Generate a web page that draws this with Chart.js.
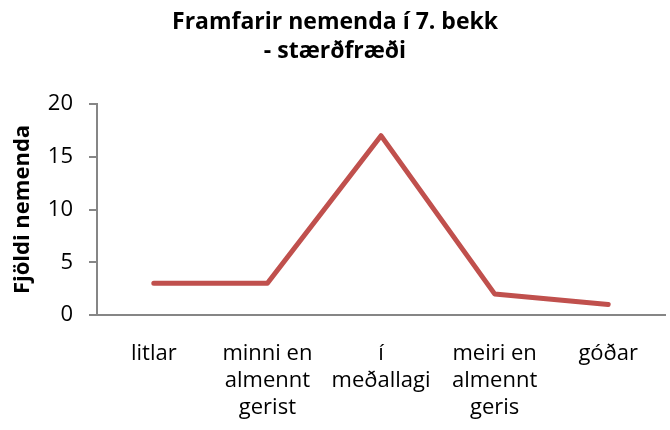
<!DOCTYPE html>
<html>
<head>
<meta charset="utf-8">
<script src="https://cdn.jsdelivr.net/npm/chart.js@4"></script>
<style>
  html, body { margin: 0; padding: 0; background: #fff; }
  #wrap { width: 670px; height: 430px; }
</style>
</head>
<body>
<div id="wrap"><canvas id="chart" width="670" height="430"></canvas></div>
<script>
// Chart data
const titleLines = ['Framfarir nemenda í 7. bekk', '- stærðfræði'];
const categories = [
    'litlar',
    ['minni en', 'almennt', 'gerist'],
    ['í', 'meðallagi'],
    ['meiri en', 'almennt', 'geris'],
    'góðar'
];
const studentCounts = [3, 3, 17, 2, 1];
const yTicks = [0, 5, 10, 15, 20];
const yAxisTitle = 'Fjöldi nemenda';

const FONT = '"Open Sans", Lato, sans-serif';

// Title drawn by hand so the two lines sit where the original has them
const canvasTitle = {
    id: 'canvasTitle',
    afterDraw(chart) {
        const ctx = chart.ctx;
        ctx.save();
        ctx.fillStyle = '#000';
        ctx.font = 'bold 23px ' + FONT;
        ctx.textAlign = 'center';
        ctx.textBaseline = 'alphabetic';
        titleLines.forEach((line, i) => {
            ctx.fillText(line, chart.width / 2, 29 + i * 29);
        });
        ctx.restore();
    }
};

new Chart(document.getElementById('chart'), {
    type: 'line',
    data: {
        labels: categories,
        datasets: [{
            data: studentCounts,
            borderColor: '#C0504D',
            borderWidth: 5,
            borderCapStyle: 'round',
            borderJoinStyle: 'round',
            pointRadius: 0,
            pointHoverRadius: 0,
            tension: 0,
            fill: false
        }]
    },
    options: {
        responsive: false,
        animation: false,
        layout: { padding: { top: 104, right: 5, left: 10, bottom: 0 } },
        plugins: {
            legend: { display: false },
            title: { display: false },
            tooltip: { enabled: false }
        },
        scales: {
            x: {
                offset: true,
                grid: { display: false },
                border: { display: true, color: '#868686', width: 2 },
                afterFit(axis) {
                    // room under the plot for the three-line labels
                    axis.height = 115;
                },
                ticks: {
                    color: '#000',
                    font: { family: FONT, size: 22, lineHeight: 1.23 },
                    maxRotation: 0,
                    autoSkip: false,
                    padding: 17
                }
            },
            y: {
                min: 0,
                max: 20,
                afterBuildTicks(axis) {
                    axis.ticks = yTicks.map(v => ({ value: v }));
                },
                afterFit(axis) {
                    // puts the axis line where the original has it
                    axis.width = 87;
                },
                grid: {
                    drawOnChartArea: false,
                    drawTicks: true,
                    tickLength: 8,
                    color: '#868686',
                    lineWidth: 2
                },
                border: { display: true, color: '#868686', width: 2 },
                ticks: {
                    color: '#000',
                    font: { family: FONT, size: 22 },
                    padding: 16
                },
                title: {
                    display: true,
                    text: yAxisTitle,
                    color: '#000',
                    font: { family: FONT, size: 22, weight: 'bold' },
                    padding: { top: 0, bottom: 0 }
                }
            }
        }
    },
    plugins: [canvasTitle]
});
</script>
</body>
</html>
